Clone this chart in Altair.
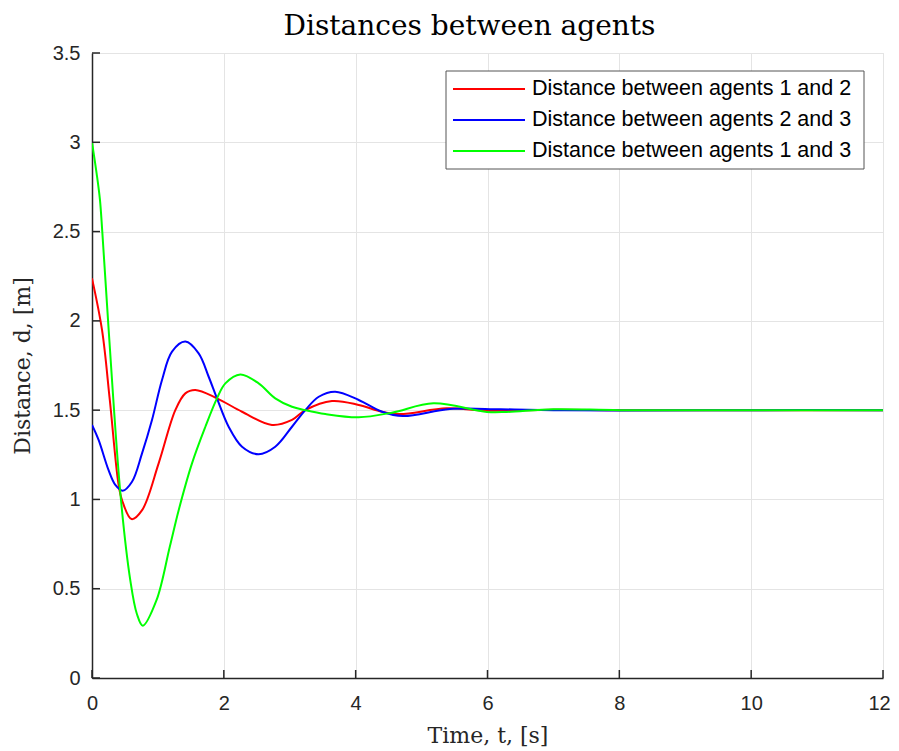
import altair as alt
import pandas as pd

# Distance between agents 1 and 2
t12 = [0.0, 0.152, 0.27, 0.40, 0.455, 0.60, 0.76, 1.011, 1.264, 1.416, 1.568, 1.896, 2.276, 2.73, 3.034, 3.236, 3.64, 4.046, 4.40, 4.67, 5.38, 6.0, 7.0, 8.0, 10.0, 12.0]
d12 = [2.238, 1.949, 1.557, 1.09, 0.997, 0.89, 0.94, 1.202, 1.50, 1.594, 1.613, 1.566, 1.491, 1.417, 1.445, 1.50, 1.551, 1.529, 1.491, 1.478, 1.51, 1.497, 1.502, 1.50, 1.50, 1.50]

# Distance between agents 2 and 3
t23 = [0.0, 0.10, 0.25, 0.354, 0.465, 0.607, 0.759, 0.91, 1.062, 1.214, 1.416, 1.618, 1.77, 1.896, 2.073, 2.276, 2.528, 2.78, 3.034, 3.236, 3.44, 3.69, 4.046, 4.40, 4.72, 5.43, 6.2, 7.0, 8.0, 10.0, 12.0]
d23 = [1.417, 1.333, 1.165, 1.081, 1.049, 1.099, 1.258, 1.445, 1.669, 1.828, 1.884, 1.818, 1.687, 1.566, 1.407, 1.295, 1.253, 1.295, 1.407, 1.50, 1.575, 1.603, 1.557, 1.491, 1.467, 1.506, 1.505, 1.50, 1.498, 1.50, 1.50]

# Distance between agents 1 and 3
t13 = [0.0, 0.07, 0.12, 0.156, 0.253, 0.435, 0.58, 0.68, 0.77, 0.98, 1.18, 1.315, 1.517, 1.72, 1.896, 2.023, 2.25, 2.528, 2.78, 3.034, 3.236, 3.54, 4.046, 4.55, 5.18, 5.99, 6.29, 7.0, 8.0, 10.0, 12.0]
d13 = [3.0, 2.826, 2.68, 2.50, 1.949, 1.015, 0.55, 0.36, 0.293, 0.437, 0.735, 0.94, 1.202, 1.407, 1.566, 1.650, 1.70, 1.650, 1.566, 1.519, 1.50, 1.478, 1.46, 1.486, 1.538, 1.49, 1.49, 1.505, 1.50, 1.50, 1.50]

names = ["Distance between agents 1 and 2",
         "Distance between agents 2 and 3",
         "Distance between agents 1 and 3"]
colors = ["#ff0000", "#0000ff", "#00ff00"]

x_ticks = [0, 2, 4, 6, 8, 10, 12]
y_ticks = [0, 0.5, 1, 1.5, 2, 2.5, 3, 3.5]

rows = []
for name, ts, ds in zip(names, [t12, t23, t13], [d12, d23, d13]):
    for t, d in zip(ts, ds):
        rows.append({"t": t, "d": d, "series": name})
df = pd.DataFrame(rows)
leg_df = pd.DataFrame({"series": names})

W, H = 791, 625
xscale = alt.Scale(domain=[0, 12], nice=False, zero=False)
yscale = alt.Scale(domain=[0, 3.5], nice=False, zero=False)
cscale = alt.Scale(domain=names, range=colors)

ink = "#262626"

xaxis = alt.Axis(values=x_ticks, format="~g", title="Time, t, [s]", grid=True,
                 gridColor="#e4e4e4", gridWidth=1,
                 domainColor=ink, domainWidth=1.5, ticks=False, labelFlush=False,
                 labelOffset={"condition": {"test": "datum.value == 12", "value": -4}, "value": 0},
                 labelFont="Liberation Sans", labelFontSize=20, labelColor=ink,
                 labelPadding=15, titleFont="DejaVu Serif", titleFontSize=22,
                 titleFontWeight="normal", titleColor=ink,
                 titleX=W / 2, titleY=57, titleBaseline="middle", titleAlign="center")

lines = alt.Chart(df).mark_line(strokeWidth=2, interpolate="catmull-rom", clip=True).encode(
    x=alt.X("t:Q", scale=xscale, axis=xaxis),
    y=alt.Y("d:Q", scale=yscale,
            axis=alt.Axis(values=y_ticks, format="~g", title="Distance, d, [m]", grid=True,
                          gridColor="#e4e4e4", gridWidth=1, labelFlush=False,
                          domainColor=ink, domainWidth=1.5, ticks=False,
                          labelFont="Liberation Sans", labelFontSize=20, labelColor=ink,
                          labelPadding=12, titleFont="DejaVu Serif", titleFontSize=22,
                          titleFontWeight="normal", titleColor=ink,
                          titleX=-70, titleY=H / 2, titleBaseline="middle", titleAlign="center",
                          titleAngle=270)),
    color=alt.Color("series:N", scale=cscale, legend=None),
)

xt = pd.DataFrame({"v": x_ticks})
yt = pd.DataFrame({"v": y_ticks})
xticks = alt.Chart(xt).mark_rule(color=ink, strokeWidth=1.5).encode(
    x=alt.X("v:Q", scale=xscale, axis=xaxis), y=alt.value(H), y2=alt.value(H - 8))
yticks = alt.Chart(yt).mark_rule(color=ink, strokeWidth=1.5).encode(
    y=alt.Y("v:Q", scale=yscale, axis=None), x=alt.value(0), x2=alt.value(8))

# legend (manual, inside the plot area at upper right)
leg_box = alt.Chart(alt.Data(values=[{}])).mark_rect(
    fill="white", stroke="#555555", strokeWidth=1).encode(
    x=alt.value(354), x2=alt.value(772), y=alt.value(18), y2=alt.value(116))
leg_y = alt.Y("series:N", scale=alt.Scale(type="point", domain=names, range=[36, 98], padding=0), axis=None)
leg_lines = alt.Chart(leg_df).mark_rule(strokeWidth=2).encode(
    y=leg_y, x=alt.value(361), x2=alt.value(433),
    color=alt.Color("series:N", scale=cscale, legend=None))
leg_text = alt.Chart(leg_df).mark_text(align="left", baseline="middle", font="Liberation Sans",
                                       fontSize=21.5, color="#000000").encode(
    y=leg_y, x=alt.value(440), text="series:N")

chart = alt.layer(lines, xticks, yticks, leg_box, leg_lines, leg_text).resolve_scale(
    y="independent").properties(
    width=W, height=H,
    title=alt.TitleParams("Distances between agents", font="DejaVu Serif", fontSize=28,
                          fontWeight="normal", color="#000000", anchor="middle", dx=-18, offset=2),
    autosize=alt.AutoSizeParams(type="none"),
    padding={"left": 84, "top": 45, "right": 8, "bottom": 72},
).configure_view(stroke=None).configure(background="white")

chart.save("out.html", embed_options={"renderer": "svg", "actions": False})
